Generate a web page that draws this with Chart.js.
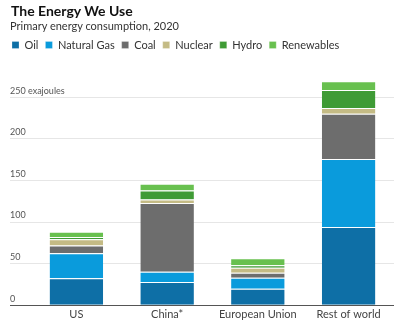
<!DOCTYPE html>
<html>
<head>
<meta charset="utf-8">
<script src="https://cdn.jsdelivr.net/npm/chart.js@4"></script>
<style>
  body { margin: 0; background: #fff; font-family: Lato, sans-serif; }
  #wrap { position: relative; width: 400px; height: 330px; }
  #title { position: absolute; left: 11px; top: 3px; font-size: 14px; font-weight: bold; color: #111; line-height: 16px; }
  #sub { position: absolute; left: 10px; top: 19px; font-size: 11px; color: #333; line-height: 13px; }
  canvas { position: absolute; left: 0; top: 0; }
</style>
</head>
<body>
<div id="wrap">
  <canvas id="myChart" width="400" height="330"></canvas>
  <div id="title">The Energy We Use</div>
  <div id="sub">Primary energy consumption, 2020</div>
</div>
<script>
// regions on the x axis
const regions = ['US', 'China*', 'European Union', 'Rest of world'];
// exajoules per source, one value per region
const oil = [32.4, 28, 20, 94];
const gas = [30, 12.3, 13.2, 81.8];
const coal = [9.5, 82.7, 6, 54.2];
const nuclear = [7.3, 4, 6, 7];
const hydro = [2.7, 11, 2.9, 21.5];
const renewables = [6.4, 8, 8.4, 10.5];
const yTicks = [0, 50, 100, 150, 200, 250];

const series = [
  ['Oil', oil, '#0e6fa6'],
  ['Natural Gas', gas, '#0a9bdc'],
  ['Coal', coal, '#6d6d6d'],
  ['Nuclear', nuclear, '#c4bb85'],
  ['Hydro', hydro, '#3f9b35'],
  ['Renewables', renewables, '#68c04f']
];

// y labels sit above the gridlines at the far left
const yLabels = {
  id: 'yLabels',
  afterDraw(chart) {
    const ctx = chart.ctx;
    const y = chart.scales.y;
    ctx.save();
    ctx.font = '9px Lato, sans-serif';
    ctx.fillStyle = '#555';
    ctx.textAlign = 'left';
    ctx.textBaseline = 'bottom';
    y.ticks.forEach(t => {
      const label = t.value === 250 ? '250 exajoules' : String(t.value);
      ctx.fillText(label, 10, y.getPixelForValue(t.value) - 2);
    });
    ctx.restore();
  }
};

new Chart(document.getElementById('myChart'), {
  type: 'bar',
  data: {
    labels: regions,
    datasets: series.map(([name, values, color]) => ({
      label: name,
      data: values,
      backgroundColor: color,
      borderColor: '#fff',
      borderWidth: { top: 1, right: 0, bottom: 0, left: 0 },
      borderSkipped: false
    }))
  },
  options: {
    responsive: false,
    animation: false,
    layout: { padding: { left: 5, right: 6, top: 32.5, bottom: 5.5 } },
    barPercentage: 0.59,
    categoryPercentage: 1,
    plugins: {
      tooltip: { enabled: false },
      legend: {
        position: 'top',
        align: 'start',
        labels: {
          boxWidth: 7,
          boxHeight: 7,
          padding: 7,
          color: '#333',
          font: { family: 'Lato', size: 11 }
        }
      }
    },
    scales: {
      x: {
        stacked: true,
        grid: { display: false, drawTicks: false },
        border: { display: false },
        ticks: { padding: 3, color: '#444', font: { family: 'Lato', size: 11 } }
      },
      y: {
        stacked: true,
        min: 0,
        max: 294,
        afterBuildTicks: s => { s.ticks = yTicks.map(v => ({ value: v })); },
        afterFit: s => { s.width = 26; },
        ticks: { display: false },
        border: { display: false },
        grid: {
          drawTicks: true,
          tickLength: 21,
          color: c => c.tick && c.tick.value === 0 ? '#555' : '#e6e6e6'
        }
      }
    }
  },
  plugins: [yLabels]
});
</script>
</body>
</html>
